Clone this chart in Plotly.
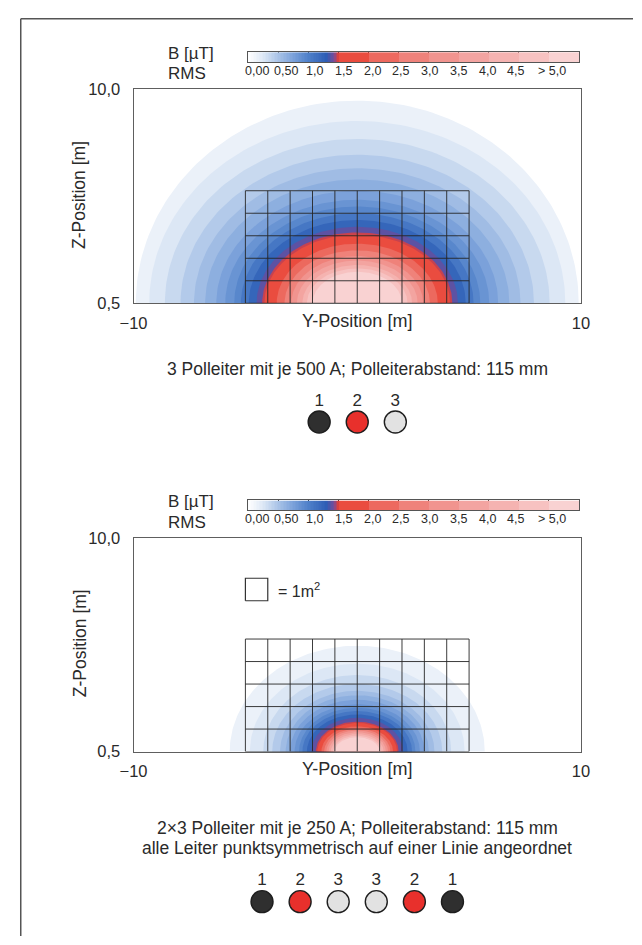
import numpy as np
import plotly.graph_objects as go

W, H = 642, 945

# ---------------- data ----------------
colorbar_labels = ["0,00", "0,50", "1,0", "1,5", "2,0", "2,5", "3,0", "3,5", "4,0", "4,5", "> 5,0"]

y_tick_vals = [-10, 10]
y_tick_text = ["\u221210", "10"]
z_tick_vals = [0.5, 10.0]
z_tick_text = ["0,5", "10,0"]

grid_y_edges = [-5, -4, -3, -2, -1, 0, 1, 2, 3, 4, 5]
grid_z_edges = [0.5, 1.5, 2.5, 3.5, 4.5, 5.5]

field_center_y = 0.0
field_center_z = 0.5

# contour levels: B (uT), half-width along Y (m), height above ground z=0.5 (m)
p1_level_uT = [0.1, 0.2, 0.3, 0.4, 0.5, 0.6, 0.7, 0.8, 0.9, 1.0, 1.15, 1.3, 1.45, 1.5, 2.0, 2.5, 3.0, 3.5, 4.0, 4.5, 5.0]
p1_halfwidth_m = [9.9, 9.3, 8.6, 7.9, 7.3, 6.8, 6.3, 5.9, 5.5, 5.2, 4.85, 4.5, 4.25, 4.15, 3.6, 3.25, 2.95, 2.7, 2.45, 2.25, 2.0]
p1_height_m = [9.0, 8.1, 7.3, 6.6, 6.0, 5.5, 5.0, 4.6, 4.3, 4.0, 3.7, 3.4, 3.15, 3.05, 2.65, 2.35, 2.1, 1.9, 1.7, 1.55, 1.4]

p2_level_uT = [0.1, 0.2, 0.3, 0.4, 0.5, 0.6, 0.7, 0.8, 0.9, 1.0, 1.15, 1.3, 1.45, 1.5, 2.0, 2.5, 3.0, 3.5, 4.0, 4.5, 5.0]
p2_halfwidth_m = [5.7, 4.8, 4.2, 3.8, 3.45, 3.2, 3.0, 2.8, 2.6, 2.45, 2.25, 2.05, 1.85, 1.78, 1.6, 1.48, 1.38, 1.28, 1.18, 1.08, 1.0]
p2_height_m = [4.7, 3.9, 3.4, 3.0, 2.7, 2.5, 2.3, 2.1, 1.95, 1.8, 1.65, 1.5, 1.33, 1.27, 1.12, 1.02, 0.94, 0.86, 0.78, 0.7, 0.64]

square_y = [-5, -4]
square_z = [7.2, 8.2]
square_label = "= 1m<sup>2</sup>"

p1_phases = ["1", "2", "3"]
p2_phases = ["1", "2", "3", "3", "2", "1"]

caption1 = "3 Polleiter mit je 500 A; Polleiterabstand: 115 mm"
caption2a = "2\u00d73 Polleiter mit je 250 A; Polleiterabstand: 115 mm"
caption2b = "alle Leiter punktsymmetrisch auf einer Linie angeordnet"

# ---------------- styling ----------------
FONT = "Liberation Sans, Arial, sans-serif"
TXT = "#2a2a2a"
phase_fill = {"1": "#2f2f2f", "2": "#e8302c", "3": "#e2e2e2"}

cs_vals = [0.0, 0.1, 0.25, 0.5, 0.75, 1.0, 1.3, 1.42, 1.5, 2.0, 2.5, 3.0, 3.5, 4.0, 4.5, 5.0, 5.5]
cs_cols = ["#ffffff", "#f2f6fb", "#dce7f5", "#a9c3e7", "#7ba1da", "#4f80c9", "#2d5db5", "#7a4b98",
           "#e83e30", "#eb5a4e", "#ee786f", "#f08c86", "#f29c98", "#f4aca9", "#f6bab8", "#f8caca", "#fad8d8"]
ZMAX = 5.5


def hex2rgb(h):
    h = h.lstrip("#")
    return [int(h[i:i + 2], 16) for i in (0, 2, 4)]


def colour(v):
    v = min(max(v, cs_vals[0]), cs_vals[-1])
    for i in range(len(cs_vals) - 1):
        if cs_vals[i] <= v <= cs_vals[i + 1]:
            f = (v - cs_vals[i]) / (cs_vals[i + 1] - cs_vals[i])
            a, b = hex2rgb(cs_cols[i]), hex2rgb(cs_cols[i + 1])
            c = [round(a[k] + f * (b[k] - a[k])) for k in range(3)]
            return "rgb(%d,%d,%d)" % tuple(c)
    return cs_cols[-1]


colorscale = [[v / ZMAX, c] for v, c in zip(cs_vals, cs_cols)]


def px(x):
    return x / W


def py(y):
    return 1 - y / H


fig = go.Figure()


def add_field(levels, aw, bh, xa, ya):
    for i, (L, a, b) in enumerate(zip(levels, aw, bh)):
        nxt = levels[i + 1] if i + 1 < len(levels) else L + 0.6
        col = colour((L + nxt) / 2)
        t = np.linspace(0, np.pi, 121)
        xs = list(field_center_y + a * np.cos(t)) + [field_center_y - a, field_center_y + a]
        zs = list(field_center_z + b * np.sin(t)) + [field_center_z - 0.5, field_center_z - 0.5]
        fig.add_trace(go.Scatter(x=xs, y=zs, mode="lines", fill="toself", fillcolor=col,
                                 line=dict(width=0, color=col), hoverinfo="skip",
                                 showlegend=False, xaxis=xa, yaxis=ya))


def add_grid(xa, ya):
    gx, gy = [], []
    for yv in grid_y_edges:
        gx += [yv, yv, None]
        gy += [grid_z_edges[0], grid_z_edges[-1], None]
    for zv in grid_z_edges:
        gx += [grid_y_edges[0], grid_y_edges[-1], None]
        gy += [zv, zv, None]
    fig.add_trace(go.Scatter(x=gx, y=gy, mode="lines", line=dict(color="#262626", width=0.9),
                             hoverinfo="skip", showlegend=False, xaxis=xa, yaxis=ya))


add_field(p1_level_uT, p1_halfwidth_m, p1_height_m, "x", "y")
add_grid("x", "y")
add_field(p2_level_uT, p2_halfwidth_m, p2_height_m, "x2", "y2")
add_grid("x2", "y2")

# unit square legend in panel 2
fig.add_trace(go.Scatter(x=[square_y[0], square_y[1], square_y[1], square_y[0], square_y[0]],
                         y=[square_z[0], square_z[0], square_z[1], square_z[1], square_z[0]],
                         mode="lines", line=dict(color="#333333", width=1.2),
                         hoverinfo="skip", showlegend=False, xaxis="x2", yaxis="y2"))

# colour bars (legend scale)
nseg = len(colorbar_labels)
cb_x = np.arange(0.025, nseg, 0.05)
cb_z = []
for u in cb_x:
    seg = int(u)
    if seg < 3:
        cb_z.append(0.5 * u)
    elif seg < nseg - 1:
        cb_z.append(0.5 * seg + 0.25)
    else:
        cb_z.append(5.3)
for xa, ya in (("x3", "y3"), ("x4", "y4")):
    fig.add_trace(go.Heatmap(x=cb_x, y=[0.5], z=[cb_z], colorscale=colorscale, zmin=0, zmax=ZMAX,
                             showscale=False, hoverinfo="skip", xaxis=xa, yaxis=ya))


# phase conductors
def add_phases(phases, xa, ya):
    idx = list(range(len(phases)))
    fig.add_trace(go.Scatter(x=idx, y=[0] * len(idx), mode="markers",
                             marker=dict(size=22, color=[phase_fill[p] for p in phases],
                                         line=dict(color="#1e1e1e", width=1.4)),
                             hoverinfo="skip", showlegend=False, xaxis=xa, yaxis=ya, cliponaxis=False))
    fig.add_trace(go.Scatter(x=idx, y=[1] * len(idx), mode="text", text=phases,
                             textfont=dict(family=FONT, size=17, color=TXT),
                             hoverinfo="skip", showlegend=False, xaxis=xa, yaxis=ya, cliponaxis=False))


add_phases(p1_phases, "x5", "y5")
add_phases(p2_phases, "x6", "y6")

PL, PR = 124, 588
OFF = 457
box = dict(showline=True, mirror=True, linecolor="#5e5e5e", linewidth=1, showgrid=False,
           zeroline=False, ticks="", tickfont=dict(family=FONT, size=16.5, color=TXT))

layout_axes = {}
for k, (xa, ya, off) in enumerate((("xaxis", "yaxis", 0), ("xaxis2", "yaxis2", OFF))):
    xn = "x" if k == 0 else "x2"
    yn = "y" if k == 0 else "y2"
    layout_axes[xa] = dict(box, domain=[px(PL), px(PR)], range=[-10, 10], tickvals=y_tick_vals,
                           ticktext=y_tick_text, anchor=yn, ticklabelstandoff=5)
    layout_axes[ya] = dict(box, domain=[py(300 + off), py(82 + off)], range=[0.5, 10],
                           tickvals=z_tick_vals, ticktext=z_tick_text, anchor=xn, ticklabelstandoff=9)

for k, (xa, ya, off) in enumerate((("xaxis3", "yaxis3", 0), ("xaxis4", "yaxis4", OFF))):
    xn = "x3" if k == 0 else "x4"
    yn = "y3" if k == 0 else "y4"
    layout_axes[xa] = dict(domain=[px(243), px(586)], range=[0, nseg], showgrid=True, gridcolor="#3a3a3a",
                           gridwidth=1, dtick=1, tick0=0, showticklabels=False, ticks="", zeroline=False,
                           showline=True, mirror=True, linecolor="#555555", linewidth=1, anchor=yn,
                           layer="above traces")
    layout_axes[ya] = dict(domain=[py(54 + off), py(44 + off)], range=[0, 1], showgrid=False,
                           showticklabels=False, ticks="", zeroline=False, showline=True, mirror=True,
                           linecolor="#555555", linewidth=1, anchor=xn)


def phase_axes(xa, ya, xn, yn, n, cy):
    scale = 39.5
    centre = 356
    x0 = (n - 1) / 2 - centre / scale
    layout_axes[xa] = dict(domain=[0, 1], range=[x0, x0 + W / scale], visible=False, anchor=yn)
    # y=0 -> circle centre, y=1 -> number label (21 px above)
    layout_axes[ya] = dict(domain=[py(cy + 21), py(cy - 42)], range=[-1, 2], visible=False, anchor=xn)


phase_axes("xaxis5", "yaxis5", "x5", "y5", len(p1_phases), 421)
phase_axes("xaxis6", "yaxis6", "x6", "y6", len(p2_phases), 910)

ann = [dict(x=square_y[1] + 0.35, y=(square_z[0] + square_z[1]) / 2, xref="x2", yref="y2",
            text=square_label, showarrow=False, xanchor="left", yanchor="middle",
            font=dict(family=FONT, size=16, color=TXT))]
for off in (0, OFF):
    ann.append(dict(x=px(158), y=py(45 + off), text="B [\u00b5T]", xanchor="left", yanchor="middle",
                    font=dict(family=FONT, size=17, color=TXT)))
    ann.append(dict(x=px(158), y=py(66 + off), text="RMS", xanchor="left", yanchor="middle",
                    font=dict(family=FONT, size=17, color=TXT)))
    ann.append(dict(x=px(68), y=py(190 + off), text="Z-Position [m]", textangle=-90, xanchor="center",
                    yanchor="middle", font=dict(family=FONT, size=17.5, color=TXT)))
    ann.append(dict(x=px(356), y=py(318 + off), text="Y-Position [m]", xanchor="center", yanchor="middle",
                    font=dict(family=FONT, size=18, color=TXT)))
    cb_pos = [0.3 + i * 0.955 for i in range(nseg - 1)] + [10.1]
    for lab, pos in zip(colorbar_labels, cb_pos):
        ann.append(dict(x=px(243 + pos / nseg * (586 - 243)), y=py(63 + off), text=lab, xanchor="center",
                        yanchor="middle", font=dict(family=FONT, size=12.5, color=TXT)))

ann.append(dict(x=px(356), y=py(367), text=caption1, xanchor="center", yanchor="middle",
                font=dict(family=FONT, size=17.5, color=TXT)))
ann.append(dict(x=px(356), y=py(835), text=caption2a, xanchor="center", yanchor="middle",
                font=dict(family=FONT, size=17.5, color=TXT)))
ann.append(dict(x=px(356), y=py(855), text=caption2b, xanchor="center", yanchor="middle",
                font=dict(family=FONT, size=17.5, color=TXT)))
for a in ann[1:]:
    a.update(xref="paper", yref="paper", showarrow=False)

shapes = [
    dict(type="line", xref="paper", yref="paper", x0=px(7), x1=px(7), y0=py(10), y1=py(H),
         line=dict(color="#555555", width=1.5)),
    dict(type="line", xref="paper", yref="paper", x0=px(7), x1=px(W), y0=py(10), y1=py(10),
         line=dict(color="#555555", width=1.5)),
]

fig.update_layout(width=W, height=H, margin=dict(l=0, r=0, t=0, b=0), paper_bgcolor="white",
                  plot_bgcolor="white", showlegend=False, annotations=ann, shapes=shapes, **layout_axes)

fig.write_html("out.html")
